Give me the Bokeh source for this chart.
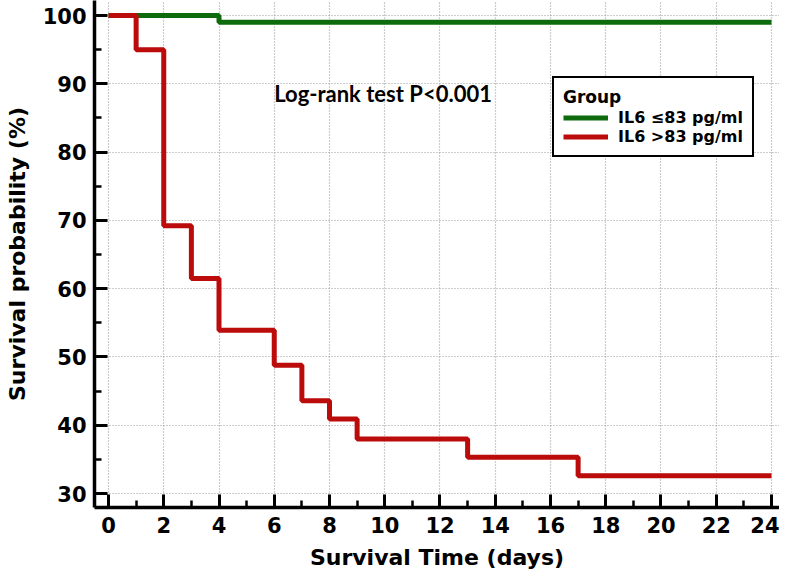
from bokeh.plotting import figure
from bokeh.models import FixedTicker, Range1d, Legend, LegendItem, Label
from bokeh.embed import file_html
from bokeh.resources import INLINE

# Data
low_days = [0, 4, 24]
low_surv = [100, 99.0, 99.0]
high_days = [0, 1, 2, 3, 4, 6, 7, 8, 9, 13, 17, 24]
high_surv = [100, 95.0, 69.2, 61.5, 53.9, 48.8, 43.6, 40.9, 38.0, 35.3, 32.6, 32.6]
x_ticks = list(range(0, 25, 2))
x_minor = list(range(1, 25, 2))
y_ticks = list(range(30, 101, 10))
y_minor = list(range(35, 100, 10))
group_labels = ["IL6 \u226483 pg/ml", "IL6 >83 pg/ml"]

FONT = "DejaVu Sans"

p = figure(width=779, height=572, output_backend="svg", toolbar_location=None,
           x_range=Range1d(-0.507, 24.29), y_range=Range1d(27.95, 102.2),
           min_border_left=94, min_border_right=0, min_border_top=0, min_border_bottom=65)
p.outline_line_color = None
p.background_fill_color = "white"
p.border_fill_color = "white"

for ax in (p.xaxis[0], p.yaxis[0]):
    ax.axis_line_width = 3.5
    ax.axis_line_color = "black"
    ax.major_tick_in = 13
    ax.major_tick_out = 0
    ax.minor_tick_in = 7
    ax.minor_tick_out = 0
    ax.major_tick_line_width = 3
    ax.minor_tick_line_width = 2.5
    ax.major_tick_line_color = "black"
    ax.minor_tick_line_color = "black"
    ax.major_label_text_font = FONT
    ax.major_label_text_font_style = "bold"
    ax.major_label_text_font_size = "21px"
    ax.major_label_text_color = "black"
    ax.axis_label_text_font = FONT
    ax.axis_label_text_font_style = "bold"
    ax.axis_label_text_font_size = "22px"
    ax.axis_label_text_color = "black"

p.xaxis.ticker = FixedTicker(ticks=x_ticks, minor_ticks=x_minor)
p.yaxis.ticker = FixedTicker(ticks=y_ticks, minor_ticks=y_minor)
p.xaxis.axis_label = "Survival Time (days)"
p.yaxis.axis_label = "Survival probability (%)"
p.xaxis.major_label_standoff = 9
p.yaxis.major_label_standoff = 8
p.xaxis.axis_label_standoff = 9
p.yaxis.axis_label_standoff = 10

for g in (p.xgrid[0], p.ygrid[0]):
    g.grid_line_color = "#9a9a9a"
    g.grid_line_dash = "1 2"
    g.grid_line_width = 1.2

r_low = p.step(low_days, low_surv, mode="after", line_color="#0d6b0d", line_width=5)
r_high = p.step(high_days, high_surv, mode="after", line_color="#bb0b0b", line_width=5)

legend = Legend(items=[LegendItem(label=group_labels[0], renderers=[r_low]),
                       LegendItem(label=group_labels[1], renderers=[r_high])],
                location=(458, 350), title="Group")
legend.title_text_font = FONT
legend.title_text_font_style = "bold"
legend.title_text_font_size = "17px"
legend.title_text_color = "black"
legend.label_text_font = FONT
legend.label_text_font_style = "bold"
legend.label_text_font_size = "16px"
legend.label_text_color = "black"
legend.border_line_color = "black"
legend.border_line_alpha = 1
legend.border_line_width = 2.5
legend.background_fill_alpha = 1
legend.glyph_width = 45
legend.label_standoff = 10
legend.spacing = 0
legend.padding = 9
legend.margin = 0
legend.label_height = 19
legend.glyph_height = 19
legend.title_standoff = 1
p.add_layout(legend, "center")

lab = Label(x=6.0, y=88.6, text="Log-rank test P<0.001", text_font="Lato",
            text_font_style="bold", text_font_size="22px", text_color="black",
            text_baseline="alphabetic")
p.add_layout(lab)

open("out.html", "w").write(file_html(p, INLINE))
